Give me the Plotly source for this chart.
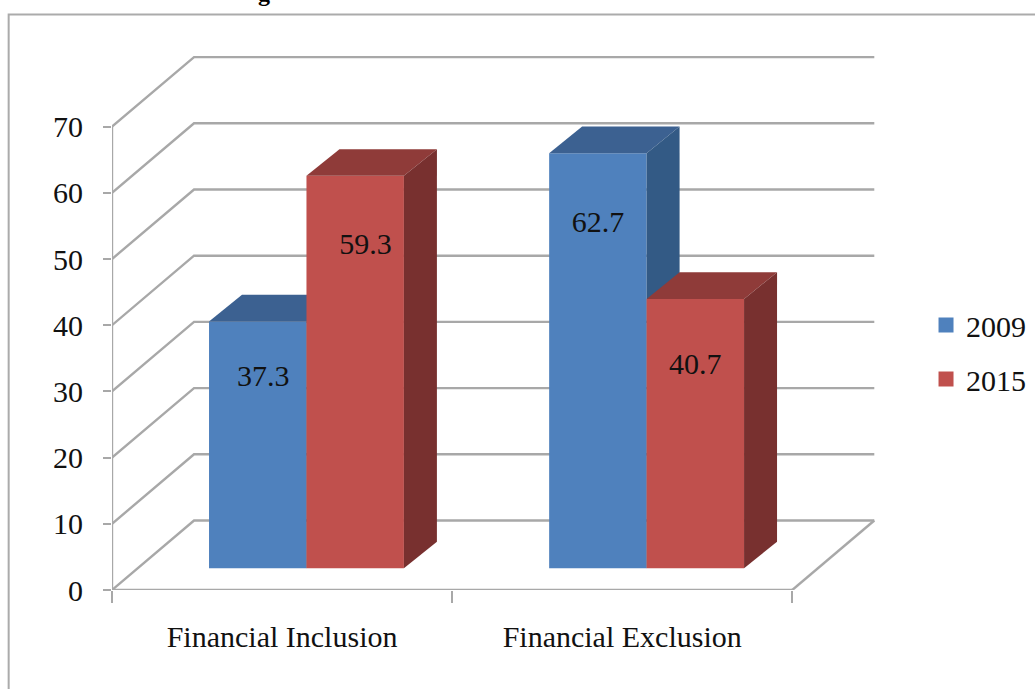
import plotly.graph_objects as go

# ---- data ----
categories = ["Financial Inclusion", "Financial Exclusion"]
series_names = ["2009", "2015"]
values_2009 = [37.3, 62.7]
values_2015 = [59.3, 40.7]
y_ticks = [0, 10, 20, 30, 40, 50, 60, 70]

# ---- styles / oblique projection (1 depth unit in axis units) ----
FRONT = {"2009": "#4F81BD", "2015": "#C0504D"}
TOP = {"2009": "#3C6191", "2015": "#8F3B39"}
SIDE = {"2009": "#335A85", "2015": "#78302F"}
GRID = "#A8A8A8"
FONT = "Liberation Serif"
TXT = "#111111"
PX_X = 340.0            # pixels per category
PX_Y = 6.62             # pixels per value unit
L, R, T, B = 112.3, 155, 50, 99
W, H = 1035, 689
DX = 82 / PX_X          # wall depth in x units
DY = 69.5 / PX_Y        # wall depth in y units
D0, D1 = 0.312, 0.695   # bar front and back depth
GAP, BW = 0.21, 0.2865  # gap and bar width in category units
x_range = [0, (W - R - L) / PX_X]
y_range = [0, (H - B - T) / PX_Y]
# label placement, in value units below bar top and category units to the right
label_drop = {"2009": [8.6, 10.7], "2015": [10.7, 10.25]}
label_nudge = {"2009": [0.016, 0.0], "2015": [0.03, 0.0]}


def paper_x(px):
    return (px - L) / (W - L - R)


def paper_y(py):
    return (H - B - py) / (H - B - T)


fig = go.Figure()
shapes = []


def wall_line(xs, ys):
    path = "M" + " L".join(f"{x},{y}" for x, y in zip(xs, ys))
    shapes.append(dict(type="path", path=path, xref="x", yref="y", layer="below",
                       line=dict(color=GRID, width=2.4)))


for v in y_ticks:
    wall_line([0, DX, 2 + DX], [v, v + DY, v + DY])
wall_line([2, 2 + DX], [0, DY])
wall_line([0, 2], [0, 0])
wall_line([0, 0], [0, y_ticks[-1]])

for idx, (name, vals) in enumerate(zip(series_names, [values_2009, values_2015])):
    xa, ya = ("x", "y") if idx == 0 else ("x2", "y2")
    lift = D0 * DY
    shift = D0 * DX
    lefts = [c + GAP + idx * BW + shift for c in range(len(categories))]
    fig.add_trace(go.Bar(
        x=[l + BW / 2 for l in lefts], y=vals, base=[lift] * len(vals), width=BW,
        marker=dict(color=FRONT[name], line=dict(width=0)),
        xaxis=xa, yaxis=ya, showlegend=False, name=name, hoverinfo="skip"))
    ddx, ddy = (D1 - D0) * DX * 1.05, (D1 - D0) * DY
    for l, v in zip(lefts, vals):
        top = v + lift
        r = l + BW
        fig.add_trace(go.Scatter(
            x=[l, r, r + ddx, l + ddx, l], y=[top, top, top + ddy, top + ddy, top],
            mode="lines", fill="toself", fillcolor=TOP[name], line=dict(width=0),
            xaxis=xa, yaxis=ya, showlegend=False, hoverinfo="skip"))
        fig.add_trace(go.Scatter(
            x=[r, r + ddx, r + ddx, r, r], y=[top, top + ddy, lift + ddy, lift, top],
            mode="lines", fill="toself", fillcolor=SIDE[name], line=dict(width=0),
            xaxis=xa, yaxis=ya, showlegend=False, hoverinfo="skip"))
    fig.add_trace(go.Scatter(
        x=[l + BW / 2 + n for l, n in zip(lefts, label_nudge[name])],
        y=[v + lift - d for v, d in zip(vals, label_drop[name])],
        text=[str(v) for v in vals], mode="text", textposition="middle center",
        textfont=dict(family=FONT, size=30, color=TXT),
        xaxis=xa, yaxis=ya, showlegend=False, hoverinfo="skip"))
    # legend entry
    fig.add_trace(go.Scatter(
        x=[None], y=[None], mode="markers", name=name, legendgroup=name,
        marker=dict(symbol="square", size=15, color=FRONT[name]),
        xaxis=xa, yaxis=ya, hoverinfo="skip"))

shapes.append(dict(type="path", xref="paper", yref="paper", layer="below",
                   path=f"M{paper_x(9)},{paper_y(700)} L{paper_x(9)},{paper_y(14.5)} L{paper_x(1040)},{paper_y(14.5)}",
                   line=dict(color="#ABABAB", width=2)))

axis_font = dict(family=FONT, size=30, color=TXT)
fig.update_layout(
    width=W, height=H, margin=dict(l=L, r=R, t=T, b=B, autoexpand=False),
    paper_bgcolor="white", plot_bgcolor="rgba(0,0,0,0)",
    barmode="overlay", shapes=shapes,
    font=axis_font,
    xaxis=dict(range=x_range, tickmode="array", tickvals=[0.5, 1.5], ticktext=categories,
               ticks="", showgrid=False, zeroline=False, showline=False,
               tickfont=axis_font, ticklabelstandoff=26,
               minor=dict(tickmode="array", tickvals=[0, 1, 2], ticks="outside", ticklen=12,
                          tickwidth=2, tickcolor=GRID, showgrid=False)),
    yaxis=dict(range=y_range, tickmode="array", tickvals=y_ticks, ticks="outside", ticklen=8,
               tickwidth=2, tickcolor=GRID, showgrid=False, zeroline=False, showline=False,
               tickfont=axis_font, ticklabelstandoff=14),
    xaxis2=dict(range=x_range, overlaying="x", visible=False),
    yaxis2=dict(range=y_range, overlaying="y", visible=False),
    legend=dict(x=paper_x(926), xanchor="left", y=paper_y(299), yanchor="top",
                font=axis_font, tracegroupgap=12, bgcolor="rgba(0,0,0,0)",
                itemclick=False, itemdoubleclick=False),
    annotations=[dict(text="<b>g</b>", xref="paper", yref="paper", x=paper_x(264), y=paper_y(-22),
                      xanchor="center", yanchor="top", showarrow=False,
                      font=dict(family=FONT, size=24, color="#000000"))],
)
fig.write_html("out.html", post_script="document.body.style.margin='0';document.body.style.overflow='hidden';",
               config={"displayModeBar": False})
